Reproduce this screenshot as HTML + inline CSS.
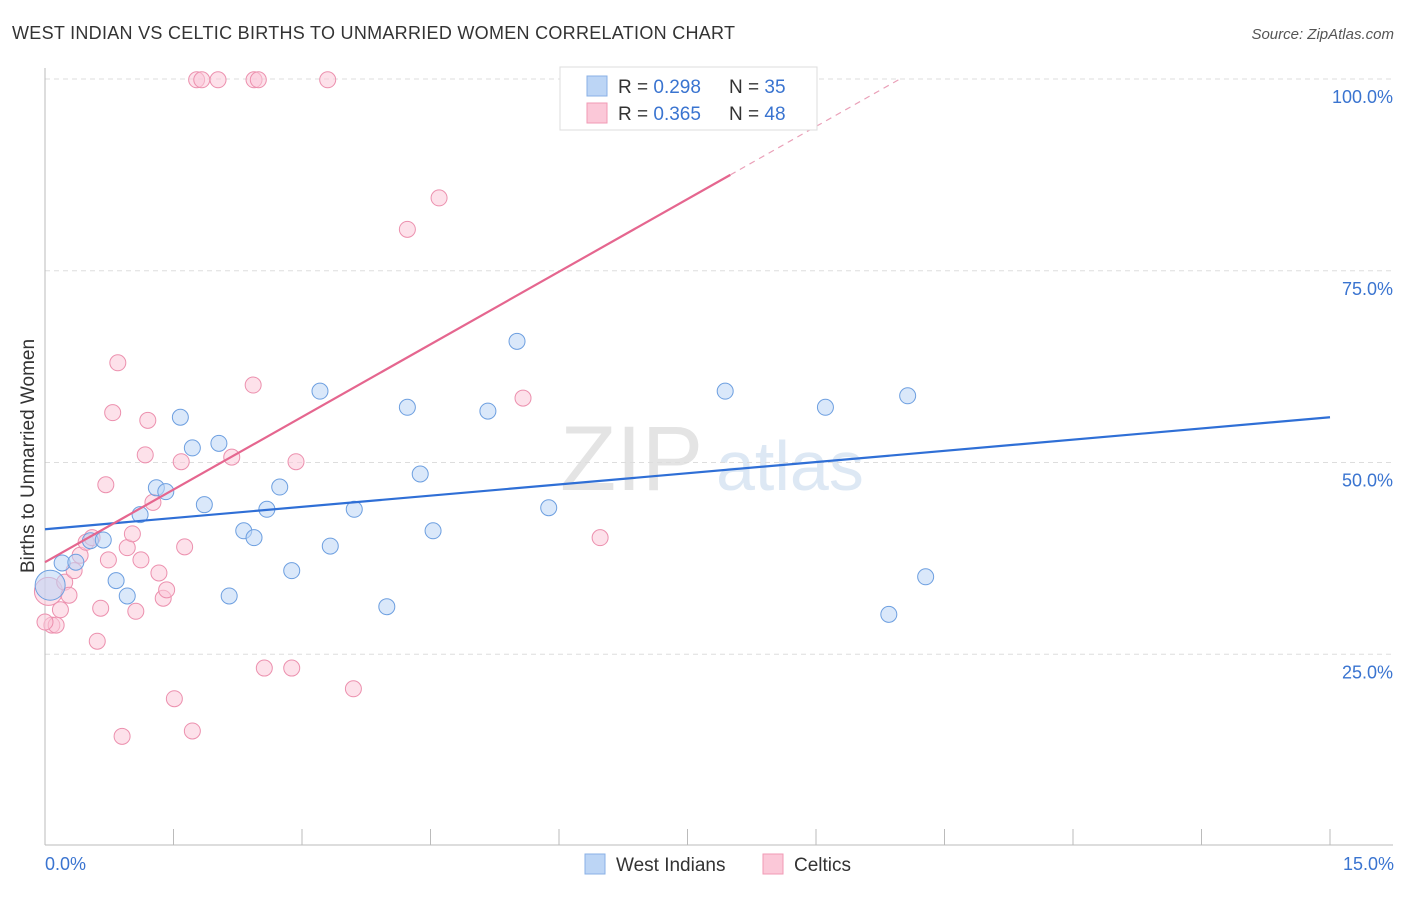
<!DOCTYPE html>
<html><head><meta charset="utf-8"><style>
body{margin:0;background:#fff;font-family:"Liberation Sans",sans-serif}
svg text{font-family:"Liberation Sans",sans-serif}
</style></head><body>
<svg id="c" width="1406" height="892">
<text x="12" y="39" font-size="18" fill="#333" textLength="723">WEST INDIAN VS CELTIC BIRTHS TO UNMARRIED WOMEN CORRELATION CHART</text>
<text x="1394" y="39" font-size="15" fill="#555" font-style="italic" text-anchor="end">Source: ZipAtlas.com</text>
<text x="560" y="490" font-size="92" fill="#e4e4e4" font-family="Liberation Serif">ZIP</text>
<text x="716" y="490" font-size="70" fill="#dde8f4">atlas</text>
<g id="grid"></g><g id="marks"></g>
<text transform="translate(34,456) rotate(-90)" font-size="19" fill="#333" text-anchor="middle">Births to Unmarried Women</text>
<text x="45" y="870" font-size="18" fill="#3a74d0">0.0%</text>
<text x="1394" y="870" font-size="18" fill="#3a74d0" text-anchor="end">15.0%</text>
<g>
<rect x="560" y="67" width="257" height="63" fill="#fff" stroke="#ddd"/>
<rect x="587" y="76" width="20" height="20" fill="#bcd5f5" stroke="#8ab0e6"/>
<rect x="587" y="103" width="20" height="20" fill="#fbc8d8" stroke="#f09ab5"/>
<text x="618" y="93" font-size="19" fill="#333">R = <tspan fill="#3a74d0">0.298</tspan></text>
<text x="729" y="93" font-size="19" fill="#333">N = <tspan fill="#3a74d0">35</tspan></text>
<text x="618" y="120" font-size="19" fill="#333">R = <tspan fill="#3a74d0">0.365</tspan></text>
<text x="729" y="120" font-size="19" fill="#333">N = <tspan fill="#3a74d0">48</tspan></text>
</g>
<g>
<rect x="585" y="854" width="20" height="20" fill="#bcd5f5" stroke="#8ab0e6"/>
<text x="616" y="871" font-size="19" fill="#333">West Indians</text>
<rect x="763" y="854" width="20" height="20" fill="#fbc8d8" stroke="#f09ab5"/>
<text x="794" y="871" font-size="19" fill="#333">Celtics</text>
</g>
</svg>
<script>
const yTicks=[25,50,75,100];
const blueX=[0.06,0.20,0.36,0.53,0.68,0.83,0.96,1.11,1.30,1.41,1.58,1.72,1.86,2.03,2.15,2.32,2.44,2.59,2.74,2.88,3.21,3.33,3.61,3.99,4.23,4.38,4.53,5.17,5.51,5.88,7.94,9.11,9.85,10.07,10.28];
const blueY=[34.0,36.9,37.0,39.8,39.9,34.6,32.6,43.2,46.7,46.2,55.9,51.9,44.5,52.5,32.6,41.1,40.2,43.9,46.8,35.9,59.3,39.1,43.9,31.2,57.2,48.5,41.1,56.7,65.8,44.1,59.3,57.2,30.2,58.7,35.1];
const pinkX=[0.04,0.08,0.13,0.18,0.23,0.28,0.34,0.41,0.48,0.55,0.61,0.65,0.71,0.74,0.79,0.85,0.90,0.96,1.02,1.06,1.12,1.17,1.20,1.26,1.33,1.38,1.42,1.51,1.59,1.63,1.72,1.77,1.83,2.02,2.18,2.43,2.44,2.49,2.56,2.88,2.93,3.30,3.60,4.23,4.60,5.58,6.48,0.0];
const pinkY=[33.2,28.8,28.8,30.8,34.4,32.7,35.9,37.9,39.6,40.2,26.7,31.0,47.1,37.3,56.5,63.0,14.3,38.9,40.7,30.6,37.3,51.0,55.5,44.8,35.6,32.3,33.4,19.2,50.1,39.0,15.0,99.9,99.9,99.9,50.7,60.1,99.9,99.9,23.2,23.2,50.1,99.9,20.5,80.4,84.5,58.4,40.2,29.2];
const blueTrend=[41.3,55.9];
const pinkTrend=[37.0,87.5];
const NS="http://www.w3.org/2000/svg";
const sx=v=>45+v*1285/15, sy=v=>846-v*7.67;
function el(p,t,a){const e=document.createElementNS(NS,t);for(const k in a)e.setAttribute(k,a[k]);p.appendChild(e);return e;}
const g=document.getElementById('grid'),m=document.getElementById('marks');
yTicks.forEach(t=>{
 const l=el(g,'line',{x1:45,x2:1393,y1:sy(t),y2:sy(t),stroke:'#ddd','stroke-dasharray':'5,4'});
 
 
 const tx=el(g,'text',{x:1393,y:sy(t)+24,'font-size':18,fill:'#3a74d0','text-anchor':'end'});tx.textContent=t.toFixed(1)+'%';
 
 
});
el(g,'line',{x1:45,x2:45,y1:68,y2:845,stroke:'#bbb'});
el(g,'line',{x1:45,x2:1393,y1:845,y2:845,stroke:'#bbb'});
for(let i=0;i<=10;i++){const t=el(g,'line',{x1:sx(i*1.5),x2:sx(i*1.5),y1:829,y2:845,stroke:'#bbb'});
 
 }
function dot(x,y,f,s,r){const c=el(m,'circle',{cx:sx(x),cy:sy(y),r:r,fill:f,'fill-opacity':0.55,stroke:s,'stroke-width':1});return c;}
pinkX.forEach((x,i)=>{const c=dot(x,pinkY[i],'#fbc8d8','#ec90ae',i==0?14:8);
 
 });
blueX.forEach((x,i)=>{const c=dot(x,blueY[i],'#bcd5f5','#6d9fe0',i==0?15:8);
 
 });
const bl=el(m,'line',{x1:sx(0),y1:sy(blueTrend[0]),x2:sx(15),y2:sy(blueTrend[1]),stroke:'#2f6fd6','stroke-width':2.2});


const slope=(pinkTrend[1]-pinkTrend[0])/8, xEnd=(100-pinkTrend[0])/slope;
const pl=el(m,'line',{x1:sx(0),y1:sy(pinkTrend[0]),x2:sx(8),y2:sy(pinkTrend[1]),stroke:'#e5668f','stroke-width':2.2});


const pd=el(m,'line',{x1:sx(8),y1:sy(pinkTrend[1]),x2:sx(xEnd),y2:sy(100),stroke:'#eaa0b8','stroke-width':1.2,'stroke-dasharray':'6,5'});


</script>
</body></html>
